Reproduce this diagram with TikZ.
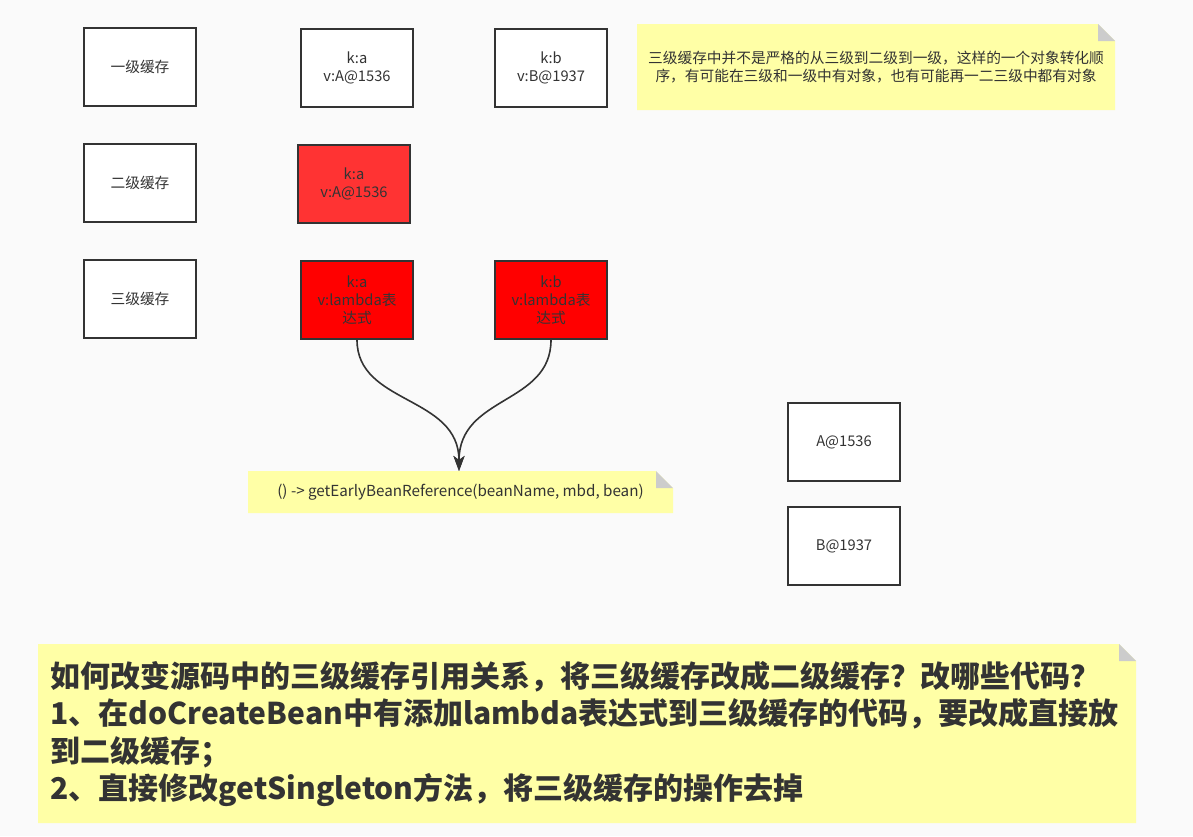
\documentclass[tikz,border=0pt]{standalone}
\usepackage{fontspec}
\setmainfont{Noto Sans CJK SC}
\usetikzlibrary{arrows.meta}
\definecolor{bgc}{HTML}{FAFAFA}
\definecolor{txt}{HTML}{333333}
\definecolor{notefill}{HTML}{FFFFA6}
\definecolor{foldgray}{HTML}{CCCCCC}
\definecolor{redA}{HTML}{FF3333}
\definecolor{redB}{HTML}{FF0000}
\tikzset{
  small/.style={font=\fontsize{14.7}{18}\selectfont, text=txt, align=center},
  cachebox/.style={small, draw=txt, line width=1.6pt, fill=white, minimum width=112pt, minimum height=78pt, inner sep=0pt},
  notebox/.style={fill=bgc, inner sep=0pt, text=txt,
    path picture={
      \fill[notefill] (path picture bounding box.south west) -- (path picture bounding box.north west)
        -- ([xshift=-17pt]path picture bounding box.north east) -- ([yshift=-17pt]path picture bounding box.north east)
        -- (path picture bounding box.south east) -- cycle;
      \fill[foldgray] ([xshift=-17pt]path picture bounding box.north east) -- ([xshift=-17pt,yshift=-17pt]path picture bounding box.north east)
        -- ([yshift=-17pt]path picture bounding box.north east) -- cycle;
    }},
  link/.style={draw=txt, line width=1.6pt, -{Stealth[length=15pt,width=11pt,inset=4pt]}}
}
\begin{document}
\begin{tikzpicture}[x=1pt,y=-1pt]
\fill[bgc] (0,0) rectangle (1193,836);
\useasboundingbox (0,0) rectangle (1193,836);

\node[cachebox] (l1) at (140,67) {一级缓存};
\node[cachebox] (ka1) at (357,68) {k:a\\v:A@1536};
\node[cachebox] (kb1) at (551,68) {k:b\\v:B@1937};

\node[cachebox] (l2) at (140,183) {二级缓存};
\node[cachebox, fill=redA] (ka2) at (354,184) {k:a\\v:A@1536};

\node[cachebox] (l3) at (140,299) {三级缓存};
\node[cachebox, fill=redB] (ka3) at (357,300) {k:a\\v:lambda表\\达式};
\node[cachebox, fill=redB] (kb3) at (551,300) {k:b\\v:lambda表\\达式};

\node[cachebox] (A) at (844,442) {A@1536};
\node[cachebox] (B) at (844,546) {B@1937};

\node[notebox, small, minimum width=478pt, minimum height=86pt] (n1) at (876,67)
  {三级缓存中并不是严格的从三级到二级到一级，这样的一个对象转化顺\\序，有可能在三级和一级中有对象，也有可能再一二三级中都有对象};

\node[notebox, small, font=\fontsize{15.2}{18}\selectfont, minimum width=425pt, minimum height=42pt] (n2) at (460.5,492)
  {() -> getEarlyBeanReference(beanName, mbd, bean)};

\node[notebox, minimum width=1098pt, minimum height=179pt] (n3) at (587,733.5) {};
\node[anchor=west, align=left, text=txt, font=\fontsize{30}{37.5}\selectfont\bfseries] (t3) at (47,734)
  {如何改变源码中的三级缓存引用关系，将三级缓存改成二级缓存？改哪些代码？\\
   1、在doCreateBean中有添加lambda表达式到三级缓存的代码，要改成直接放\\
   到二级缓存；\\
   2、直接修改getSingleton方法，将三级缓存的操作去掉};

\coordinate (tip) at (459,471);
\draw[link] (ka3.south) .. controls (357,405) and (459,395) .. (tip);
\draw[link] (kb3.south) .. controls (551,405) and (459,395) .. (tip);
\end{tikzpicture}
\end{document}
